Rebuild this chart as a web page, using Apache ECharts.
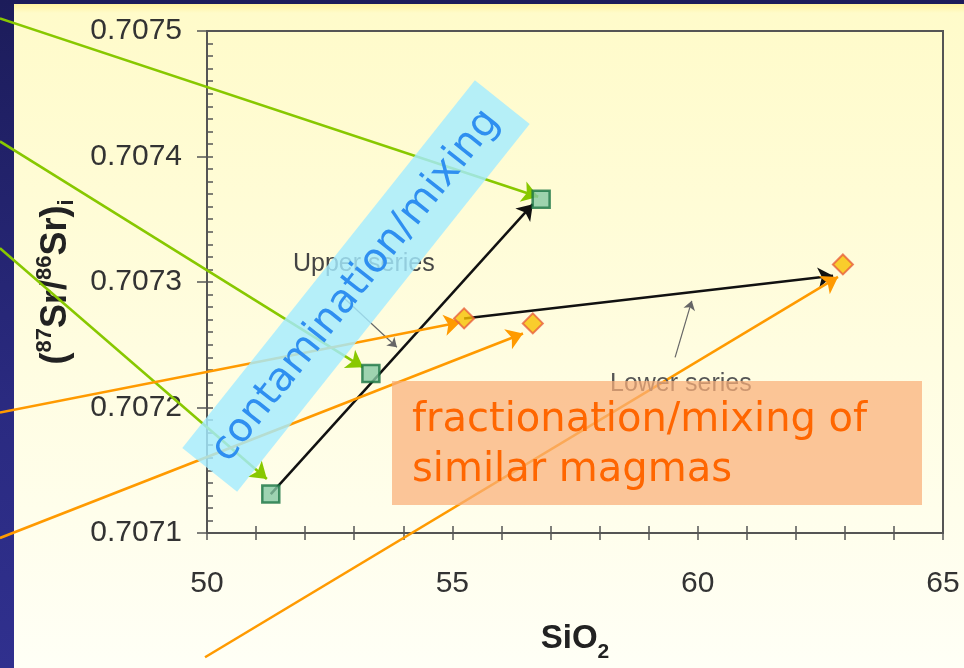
<!DOCTYPE html>
<html>
<head>
<meta charset="utf-8">
<script src="https://cdn.jsdelivr.net/npm/echarts@6/dist/echarts.min.js"></script>
<style>
  html, body { margin: 0; padding: 0; }
  body {
    width: 964px; height: 668px; overflow: hidden; position: relative;
    background: linear-gradient(180deg, #1c1c5a 0%, #2a2a80 60%, #30308e 100%);
  }
  .slide {
    position: absolute; left: 14px; top: 4px; right: 0; bottom: 0;
    background: linear-gradient(180deg, #fff3a0 0px, #fffbca 9px, #fffcd6 200px, #fffff6 664px);
  }
  #main { position: absolute; left: 0; top: 0; width: 964px; height: 668px; }
</style>
</head>
<body>
<div class="slide"></div>
<div id="main"></div>
<script>
// axis ranges: [min, max, interval]
const xRange = [50, 65, 5]
const yRange = [0.7071, 0.7075, 0.0001]

// upper series (green squares) and lower series (orange diamonds): [SiO2, 87Sr/86Sr]
const upperSeries = [[51.30, 0.707131], [53.34, 0.707227], [56.81, 0.707366]]
const lowerSeries = [[55.24, 0.707271], [56.64, 0.707267], [62.96, 0.707314]]

// black trend arrows
const trendArrows = [
  [[51.30, 0.707131], [56.64, 0.707362]],
  [[55.24, 0.707271], [62.76, 0.707305]]
]
// small gray pointer arrows for the series labels
const labelArrows = [
  [[52.77, 0.707288], [53.87, 0.707248]],
  [[59.54, 0.707240], [59.88, 0.707285]]
]
// callout arrows coming in from the left of the slide
const greenCallouts = [
  [[45.78, 0.707510], [56.75, 0.707368]],
  [[45.78, 0.707412], [53.18, 0.707232]],
  [[45.78, 0.707327], [51.22, 0.707143]]
]
const orangeCallouts = [
  [[45.78, 0.707196], [55.16, 0.707268]],
  [[45.78, 0.707096], [56.44, 0.707259]],
  [[49.96, 0.707001], [62.86, 0.707304]]
]

const toLines = arr => arr.map(c => ({ coords: c }))
const axisColor = '#555'
const labelFont = '"Liberation Sans", Arial, sans-serif'
const handFont = '"DejaVu Sans", sans-serif'

const chart = echarts.init(document.getElementById('main'))

const option = {
  backgroundColor: 'transparent',
  animation: false,
  grid: {
    left: 207, right: 21, top: 31, bottom: 126,
    show: true, borderColor: axisColor, borderWidth: 2, backgroundColor: 'transparent'
  },
  xAxis: [
    {
      type: 'value', min: xRange[0], max: xRange[1], interval: xRange[2],
      name: '{b|SiO}{s|2}', nameLocation: 'middle', nameGap: 86,
      nameTextStyle: {
        rich: {
          b: { fontSize: 33, fontWeight: 'bold', color: '#222', fontFamily: labelFont, lineHeight: 40, verticalAlign: 'middle' },
          s: { fontSize: 21, fontWeight: 'bold', color: '#222', fontFamily: labelFont, verticalAlign: 'bottom', lineHeight: 22, padding: [0, 0, -4, 0] }
        }
      },
      axisLine: { lineStyle: { color: axisColor, width: 2 } },
      axisTick: { length: 7, lineStyle: { color: axisColor, width: 1.5 } },
      minorTick: { show: true, splitNumber: 5, length: 7, lineStyle: { color: axisColor, width: 1.5 } },
      axisLabel: { margin: 36, fontSize: 30, color: '#333', fontFamily: labelFont },
      splitLine: { show: false }
    },
    {
      type: 'value', min: xRange[0], max: xRange[1], interval: xRange[2], position: 'bottom',
      axisLine: { show: false },
      axisTick: { inside: true, length: 7, lineStyle: { color: axisColor, width: 1.5 } },
      minorTick: { show: true, splitNumber: 5, length: 7, lineStyle: { color: axisColor, width: 1.5 } },
      axisLabel: { show: false },
      splitLine: { show: false }
    }
  ],
  yAxis: [
    {
      type: 'value', min: yRange[0], max: yRange[1], interval: yRange[2],
      name: '{b|(}{p|87}{b|Sr/}{p|86}{b|Sr)}{s|i}', nameLocation: 'middle', nameRotate: 90, nameGap: 129,
      nameTextStyle: {
        rich: {
          b: { fontSize: 36, fontWeight: 'bold', color: '#222', fontFamily: labelFont, lineHeight: 44, verticalAlign: 'middle' },
          p: { fontSize: 22, fontWeight: 'bold', color: '#222', fontFamily: labelFont, lineHeight: 22, verticalAlign: 'top' },
          s: { fontSize: 22, fontWeight: 'bold', color: '#222', fontFamily: labelFont, lineHeight: 22, verticalAlign: 'bottom' }
        }
      },
      axisLine: { lineStyle: { color: axisColor, width: 2 } },
      axisTick: { length: 10, lineStyle: { color: axisColor, width: 1.5 } },
      axisLabel: {
        margin: 25, fontSize: 30, color: '#333', fontFamily: labelFont,
        formatter: v => v.toFixed(4)
      },
      splitLine: { show: false }
    },
    {
      type: 'value', min: yRange[0], max: yRange[1], interval: yRange[2], position: 'left',
      axisLine: { show: false },
      axisTick: { inside: true, length: 6, lineStyle: { color: axisColor, width: 1.5 } },
      minorTick: { show: true, splitNumber: 10, length: 6, lineStyle: { color: axisColor, width: 1.5 } },
      axisLabel: { show: false },
      splitLine: { show: false }
    }
  ],
  series: [
    {
      type: 'lines', coordinateSystem: 'cartesian2d', clip: false, z: 3,
      symbol: ['none', 'arrow'], symbolSize: 9,
      lineStyle: { color: '#666', width: 1.2, opacity: 1 },
      data: toLines(labelArrows)
    },
    {
      type: 'lines', coordinateSystem: 'cartesian2d', clip: false, z: 3,
      symbol: ['none', 'arrow'], symbolSize: 15,
      lineStyle: { color: '#111', width: 2.5, opacity: 1 },
      data: toLines(trendArrows)
    },
    {
      type: 'lines', coordinateSystem: 'cartesian2d', clip: false, z: 4,
      symbol: ['none', 'arrow'], symbolSize: 16,
      lineStyle: { color: '#88c800', width: 2.6, opacity: 1 },
      data: toLines(greenCallouts)
    },
    {
      type: 'lines', coordinateSystem: 'cartesian2d', clip: false, z: 4,
      symbol: ['none', 'arrow'], symbolSize: 16,
      lineStyle: { color: '#ff9a00', width: 2.6, opacity: 1 },
      data: toLines(orangeCallouts)
    },
    {
      name: 'Upper series', type: 'scatter', z: 6,
      symbol: 'rect', symbolSize: 17,
      itemStyle: { color: '#86c8a4', borderColor: '#1a7444', borderWidth: 2.5 },
      data: upperSeries
    },
    {
      name: 'Lower series', type: 'scatter', z: 6,
      symbol: 'diamond', symbolSize: 20,
      itemStyle: { color: '#f7c000', borderColor: '#e8603c', borderWidth: 2 },
      data: lowerSeries
    }
  ],
  graphic: [
    {
      type: 'text', x: 293, y: 264, z: 10,
      style: { text: 'Upper series', font: '25px ' + labelFont, fill: '#444', verticalAlign: 'middle' }
    },
    {
      type: 'text', x: 610, y: 384, z: 10,
      style: { text: 'Lower series', font: '25px ' + labelFont, fill: '#555', verticalAlign: 'middle' }
    },
    {
      type: 'group', x: 356, y: 286, rotation: 51.5 * Math.PI / 180, z: 100,
      children: [
        {
          type: 'rect', z: 100,
          shape: { x: -235, y: -35, width: 470, height: 70 },
          style: { fill: 'rgba(165,235,255,0.82)' }
        },
        {
          type: 'text', z: 101, x: 0, y: 0,
          style: {
            text: 'contamination/mixing', font: '40px ' + handFont, fill: '#2f8ff0',
            align: 'center', verticalAlign: 'middle'
          }
        }
      ]
    },
    {
      type: 'rect', z: 100,
      shape: { x: 392, y: 381, width: 530, height: 124 },
      style: { fill: 'rgba(250,175,120,0.72)' }
    },
    {
      type: 'text', x: 412, y: 421, z: 101,
      style: { text: 'fractionation/mixing of', font: '40px ' + handFont, fill: '#ff6600', verticalAlign: 'middle' }
    },
    {
      type: 'text', x: 412, y: 471, z: 101,
      style: { text: 'similar magmas', font: '40px ' + handFont, fill: '#ff6600', verticalAlign: 'middle' }
    }
  ]
}

chart.setOption(option)
</script>
</body>
</html>
